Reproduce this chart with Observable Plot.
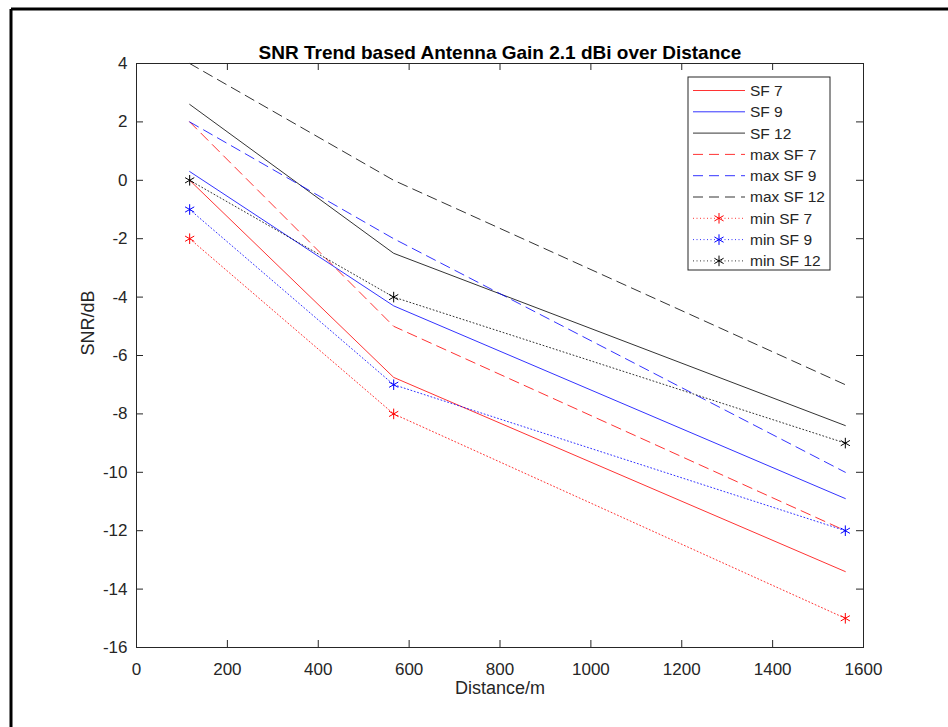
<!DOCTYPE html>
<html>
<head>
<meta charset="utf-8">
<script src="https://cdn.jsdelivr.net/npm/d3@7"></script>
<script src="https://cdn.jsdelivr.net/npm/@observablehq/plot@0.6"></script>
<style>
  html, body { margin: 0; padding: 0; background: #fff; }
  #chart { width: 948px; height: 727px; }
</style>
</head>
<body>
<div id="chart"></div>
<script>
// ---- data ----
const distance = [117, 566, 1560];
const sf7 = [0, -6.75, -13.4];
const sf9 = [0.3, -4.3, -10.9];
const sf12 = [2.6, -2.5, -8.4];
const maxSf7 = [2, -5, -12];
const maxSf9 = [2, -2, -10];
const maxSf12 = [4, 0, -7];
const minSf7 = [-2, -8, -15];
const minSf9 = [-1, -7, -12];
const minSf12 = [0, -4, -9];
const seriesNames = ["SF 7", "SF 9", "SF 12", "max SF 7", "max SF 9", "max SF 12", "min SF 7", "min SF 9", "min SF 12"];
const seriesValues = [sf7, sf9, sf12, maxSf7, maxSf9, maxSf12, minSf7, minSf9, minSf12];
const xTicks = [0, 200, 400, 600, 800, 1000, 1200, 1400, 1600];
const yTicks = [4, 2, 0, -2, -4, -6, -8, -10, -12, -14, -16];
const titleText = "SNR Trend based Antenna Gain 2.1 dBi over Distance";
const xLabel = "Distance/m";
const yLabel = "SNR/dB";

// ---- styles ----
const W = 948, H = 727, ML = 136, MR = 85, MT = 63, MB = 80;
const frameW = W - ML - MR, frameH = H - MT - MB, tickLen = 7;
const colorOf = {"7": "#ff0000", "9": "#0000ff", "12": "#000000"};
const styleOf = name => {
  const sf = name.match(/\d+/)[0];
  const kind = name.startsWith("max") ? "dash" : name.startsWith("min") ? "dot" : "solid";
  return {color: colorOf[sf], kind};
};
const dashOf = {solid: null, dash: "10,6", dot: "1,2.5"};

const table = seriesNames.flatMap((name, i) =>
  distance.map((d, j) => ({series: name, x: d, y: seriesValues[i][j]})));

const font = "'Liberation Sans', Arial, Helvetica, sans-serif";
const axisColor = "#262626";

const lineMarks = seriesNames.map(name => {
  const s = styleOf(name);
  return Plot.line(table.filter(r => r.series === name), {
    x: "x", y: "y", stroke: s.color, strokeWidth: 1, strokeOpacity: s.color === "#000000" ? 0.8 : 0.8,
    strokeDasharray: dashOf[s.kind]
  });
});
const dotMarks = seriesNames.filter(n => styleOf(n).kind === "dot").map(name => {
  const s = styleOf(name);
  return Plot.dot(table.filter(r => r.series === name), {
    x: "x", y: "y", symbol: "asterisk", r: 5, stroke: s.color, strokeWidth: 1
  });
});

const chart = Plot.plot({
  width: W, height: H,
  marginLeft: ML, marginRight: MR, marginTop: MT, marginBottom: MB,
  style: {fontFamily: font, background: "#fff", color: axisColor},
  x: {domain: [0, 1600], label: null},
  y: {domain: [-16, 4], label: null},
  marks: [
    ...lineMarks,
    ...dotMarks,
    // inward tick marks on all four sides
    Plot.ruleX(xTicks, {x: d => d, insetTop: frameH - tickLen, stroke: axisColor}),
    Plot.ruleX(xTicks, {x: d => d, insetBottom: frameH - tickLen, stroke: axisColor}),
    Plot.ruleY(yTicks, {y: d => d, insetRight: frameW - tickLen, stroke: axisColor}),
    Plot.ruleY(yTicks, {y: d => d, insetLeft: frameW - tickLen, stroke: axisColor}),
    Plot.frame({stroke: axisColor, strokeWidth: 1}),
    Plot.axisX({anchor: "bottom", ticks: xTicks, tickSize: 0, tickPadding: 15, fontSize: 17, tickFormat: d => String(d), fill: axisColor}),
    Plot.axisY({anchor: "left", ticks: yTicks, tickSize: 0, tickPadding: 9, fontSize: 17, tickFormat: d => String(d), fill: axisColor}),
    Plot.text([titleText], {frameAnchor: "top", dy: -18, fontSize: 19, fontWeight: "bold", fill: "#000"}),
    Plot.text([xLabel], {frameAnchor: "bottom", dy: 46, fontSize: 18, fill: axisColor}),
    Plot.text([yLabel], {frameAnchor: "left", dx: -48, rotate: -90, fontSize: 18, fill: axisColor})
  ]
});

// ---- legend and figure border ----
const svg = d3.select(chart);
svg.append("line").attr("x1", 11).attr("y1", 9).attr("x2", W).attr("y2", 9).attr("stroke", "#000").attr("stroke-width", 3);
svg.append("line").attr("x1", 11).attr("y1", 9).attr("x2", 11).attr("y2", H).attr("stroke", "#000").attr("stroke-width", 3);

const lg = svg.append("g").attr("transform", "translate(688,77)");
lg.append("rect").attr("x", 0).attr("y", 0).attr("width", 142).attr("height", 193)
  .attr("fill", "#fff").attr("stroke", axisColor).attr("stroke-width", 1);
seriesNames.forEach((name, i) => {
  const s = styleOf(name);
  const cy = 13.5 + i * 21.3;
  lg.append("line").attr("x1", 5).attr("x2", 57).attr("y1", cy).attr("y2", cy)
    .attr("stroke", s.color).attr("stroke-width", 1).attr("stroke-opacity", 0.8)
    .attr("stroke-dasharray", dashOf[s.kind]);
  if (s.kind === "dot") {
    lg.append("path").attr("d", d3.symbol(d3.symbolAsterisk, 25 * Math.PI)())
      .attr("transform", `translate(31,${cy})`).attr("stroke", s.color).attr("fill", "none");
  }
  lg.append("text").attr("x", 62).attr("y", cy).attr("dy", "0.35em")
    .attr("text-anchor", "start")
    .attr("font-family", font).attr("font-size", 15.5).attr("fill", axisColor).text(name);
});

document.getElementById("chart").appendChild(chart);
</script>
</body>
</html>
